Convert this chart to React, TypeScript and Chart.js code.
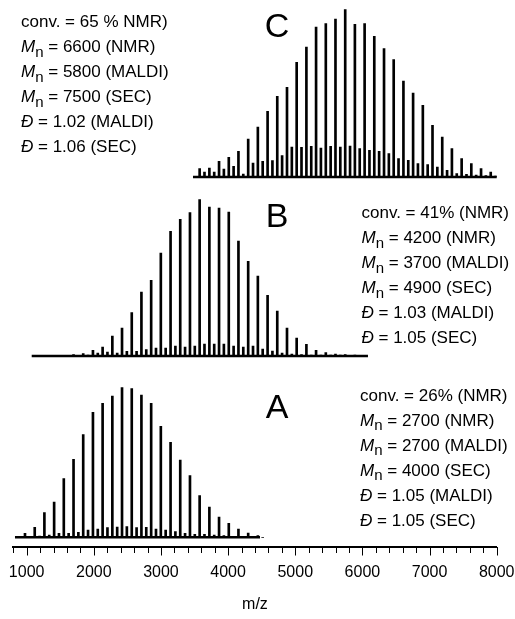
import React, { useEffect, useRef } from 'react';
import { Chart, registerables } from 'chart.js';

Chart.register(...registerables);

// ---------- axis ----------
const X_MIN = 800;
const X_MAX = 8000;
const X_TICKS = [
  800, 1000, 1200, 1400, 1600, 1800, 2000, 2200, 2400, 2600, 2800, 3000, 3200,
  3400, 3600, 3800, 4000, 4200, 4400, 4600, 4800, 5000, 5200, 5400, 5600, 5800,
  6000, 6200, 6400, 6600, 6800, 7000, 7200, 7400, 7600, 7800, 8000,
];
const X_LABELS = [1000, 2000, 3000, 4000, 5000, 6000, 7000, 8000];
const X_TITLE = 'm/z';

// mass shift of the minor peak series relative to the main series
const SIDE_SHIFT = 72;

// ---------- spectrum A ----------
const A_LABEL = 'A';
const A_MZ = [
  975, 1120, 1264, 1409, 1553, 1698, 1842, 1987, 2131, 2276, 2420, 2565, 2709,
  2854, 2998, 3143, 3287, 3432, 3576, 3721, 3865, 4010, 4154, 4299, 4443,
];
const A_MAIN = [
  4, 10, 24.7, 35.3, 58.7, 78, 102.7, 125, 134, 141.3, 149.7, 148.7, 142.3,
  134, 111, 95, 77.3, 61.7, 41.7, 30.3, 20.3, 14, 8.3, 4.3, 1.7,
];
const A_SIDE = [
  1, 1.3, 2.3, 4, 4, 5, 7.3, 8.3, 9.7, 10.3, 10.7, 9.7, 10, 8.3, 7.3, 5.7, 4,
  3, 3, 2.3, 1.7, 1, 1, 0.5, 0,
];
const A_RANGE = [826, 4475];
const A_NOTES = [
  'conv. = 26% (NMR)',
  'M_n = 2700 (NMR)',
  'M_n = 2700 (MALDI)',
  'M_n = 4000 (SEC)',
  'Đ = 1.05 (MALDI)',
  'Đ = 1.05 (SEC)',
];

// ---------- spectrum B ----------
const B_LABEL = 'B';
const B_MZ = [
  1698, 1842, 1987, 2131, 2276, 2420, 2565, 2709, 2854, 2998, 3143, 3287, 3432,
  3576, 3721, 3865, 4010, 4154, 4299, 4443, 4588, 4732, 4877, 5021, 5166, 5310,
  5455, 5599, 5744, 5888,
];
const B_MAIN = [
  1.5, 2.5, 5.7, 9, 20, 28, 43.3, 64, 75.7, 103, 124.7, 136.7, 143.3, 156.3,
  149, 148, 144, 115, 94.7, 80, 60.7, 45, 28, 18, 11.7, 5.7, 3.3, 2, 1.5, 1,
];
const B_SIDE = [
  0.5, 1, 3, 4, 3, 4.7, 4.7, 6.3, 8, 8, 10, 9, 10, 12, 12, 12, 10, 9, 10, 7, 5,
  3, 2, 1.5, 1, 1, 1, 1, 0.5, 0.5,
];
const B_RANGE = [1075, 6083];
const B_NOTES = [
  'conv. = 41% (NMR)',
  'M_n = 4200 (NMR)',
  'M_n = 3700 (MALDI)',
  'M_n = 4900 (SEC)',
  'Đ = 1.03 (MALDI)',
  'Đ = 1.05 (SEC)',
];

// ---------- spectrum C ----------
const C_LABEL = 'C';
const C_MZ = [
  3576, 3721, 3865, 4010, 4154, 4299, 4443, 4588, 4732, 4877, 5021, 5166, 5310,
  5455, 5599, 5744, 5888, 6033, 6177, 6322, 6466, 6611, 6755, 6900, 7044, 7189,
  7333, 7478, 7622, 7767, 7911,
];
const C_MAIN = [
  8.3, 9, 15.7, 19.7, 25.7, 38, 50, 65.7, 80.7, 89.7, 114.7, 130, 150, 153.3,
  158, 167.3, 152.7, 153.3, 140.7, 128.3, 117.3, 96, 84, 71.7, 51.7, 40, 28.3,
  18.3, 13.3, 8.3, 5,
];
const C_SIDE = [
  5, 5, 8, 10.7, 3, 14, 15.7, 16.3, 21.3, 30, 29.7, 30.7, 29, 30.7, 30, 31,
  28.3, 26.7, 25.7, 23.3, 18.3, 16.7, 13.3, 12.3, 10, 6.7, 3.3, 2.7, 2, 1.3, 1,
];
const C_RANGE = [3477, 8000];
const C_NOTES = [
  'conv. = 65 % NMR)',
  'M_n = 6600 (NMR)',
  'M_n = 5800 (MALDI)',
  'M_n = 7500 (SEC)',
  'Đ = 1.02 (MALDI)',
  'Đ = 1.06 (SEC)',
];

// ---------- layout (positions / styles) ----------
const W = 515;
const H = 619;
const Y_MAX = 547; // chart area height in y units (1 unit = 1 px)
const FONT = '"Liberation Sans", Arial, Helvetica, sans-serif';
const INK = '#000';
const LABEL_GAP = 16.4; // space between axis line and tick label box
const MINOR_TICK = 6;
const MAJOR_TICK = 8.5;

const PANELS = [
  { label: A_LABEL, mz: A_MZ, main: A_MAIN, side: A_SIDE, range: A_RANGE, notes: A_NOTES,
    offset: 9.7, labelX: 277, labelY: 418, noteX: 360, noteY: 400.5 },
  { label: B_LABEL, mz: B_MZ, main: B_MAIN, side: B_SIDE, range: B_RANGE, notes: B_NOTES,
    offset: 191, labelX: 277, labelY: 227, noteX: 361.5, noteY: 218.3 },
  { label: C_LABEL, mz: C_MZ, main: C_MAIN, side: C_SIDE, range: C_RANGE, notes: C_NOTES,
    offset: 370, labelX: 277, labelY: 36.5, noteX: 21, noteY: 27.3 },
];

function drawNote(ctx: CanvasRenderingContext2D, text: string, x: number, y: number) {
  const base = `17px ${FONT}`;
  let cx = x;
  let rest = text;
  if (rest.startsWith('M_n')) {
    ctx.font = `italic ${base}`;
    ctx.fillText('M', cx, y);
    cx += ctx.measureText('M').width;
    ctx.font = `15px ${FONT}`;
    ctx.fillText('n', cx, y + 4.7);
    cx += ctx.measureText('n').width;
    rest = rest.slice(3);
  } else if (rest.startsWith('Đ')) {
    ctx.font = `italic ${base}`;
    ctx.fillText('Đ', cx, y);
    cx += ctx.measureText('Đ').width;
    rest = rest.slice(1);
  }
  ctx.font = base;
  ctx.fillText(rest, cx, y);
}

const decorPlugin = {
  id: 'decor',
  afterDraw(chart: any) {
    const ctx: CanvasRenderingContext2D = chart.ctx;
    const xs = chart.scales.x;
    ctx.save();
    // tick marks (minor every 200, longer major every 1000)
    ctx.strokeStyle = INK;
    ctx.lineWidth = 1;
    X_TICKS.forEach((v) => {
      const px = Math.round(xs.getPixelForValue(v)) + 0.5;
      const len = X_LABELS.includes(v) ? MAJOR_TICK : MINOR_TICK;
      ctx.beginPath();
      ctx.moveTo(px, xs.top);
      ctx.lineTo(px, xs.top + len);
      ctx.stroke();
    });
    ctx.fillStyle = INK;
    ctx.textBaseline = 'alphabetic';
    PANELS.forEach((p) => {
      ctx.font = `34px ${FONT}`;
      ctx.textAlign = 'center';
      ctx.fillText(p.label, p.labelX, p.labelY);
      ctx.textAlign = 'left';
      p.notes.forEach((t, i) => drawNote(ctx, t, p.noteX, p.noteY + i * 25));
    });
    ctx.restore();
  },
};

export default function App() {
  const ref = useRef<HTMLCanvasElement | null>(null);

  useEffect(() => {
    if (!ref.current) return;
    const datasets: any[] = [];
    PANELS.forEach((p) => {
      datasets.push({
        type: 'line',
        data: [
          { x: p.range[0], y: p.offset },
          { x: p.range[1], y: p.offset },
        ],
        borderColor: INK,
        borderWidth: 2.5,
        pointRadius: 0,
        fill: false,
        clip: false,
      });
      datasets.push({
        type: 'bar',
        data: p.mz.map((m, i) => ({ x: m, y: [p.offset, p.offset + p.main[i]] })),
        backgroundColor: INK,
        barThickness: 2,
        grouped: false,
        borderWidth: 0,
      });
      datasets.push({
        type: 'bar',
        data: p.mz.map((m, i) => ({ x: m + SIDE_SHIFT, y: [p.offset, p.offset + p.side[i]] })),
        backgroundColor: INK,
        barThickness: 2,
        grouped: false,
        borderWidth: 0,
      });
    });

    const chart = new Chart(ref.current, {
      type: 'bar',
      data: { datasets },
      options: {
        responsive: false,
        animation: false,
        events: [],
        layout: { padding: { left: 13.24, right: 18.3, top: 0, bottom: 4.4 } },
        plugins: { legend: { display: false }, tooltip: { enabled: false } },
        scales: {
          x: {
            type: 'linear',
            min: X_MIN,
            max: X_MAX,
            offset: false,
            afterBuildTicks: (scale: any) => {
              scale.ticks = X_TICKS.map((v) => ({ value: v }));
            },
            grid: {
              display: true,
              drawOnChartArea: false,
              drawTicks: true,
              tickLength: LABEL_GAP,
              color: 'rgba(0,0,0,0)',
              lineWidth: 1,
            },
            border: { display: true, color: INK, width: 2 },
            ticks: {
              autoSkip: false,
              maxRotation: 0,
              minRotation: 0,
              padding: 0,
              color: INK,
              font: { family: FONT, size: 16 },
              callback: (v: any) => (X_LABELS.includes(Number(v)) ? String(v) : ''),
            },
            title: {
              display: true,
              text: X_TITLE,
              color: INK,
              font: { family: FONT, size: 16 },
              padding: { top: 12.8, bottom: 0 },
            },
          },
          y: { type: 'linear', display: false, min: 0, max: Y_MAX },
        },
      },
      plugins: [decorPlugin],
    } as any);
    return () => chart.destroy();
  }, []);

  return (
    <div style={{ position: 'absolute', left: 0, top: 0, width: W, height: H }}>
      <canvas ref={ref} width={W} height={H} style={{ display: 'block', width: W, height: H }} />
    </div>
  );
}
